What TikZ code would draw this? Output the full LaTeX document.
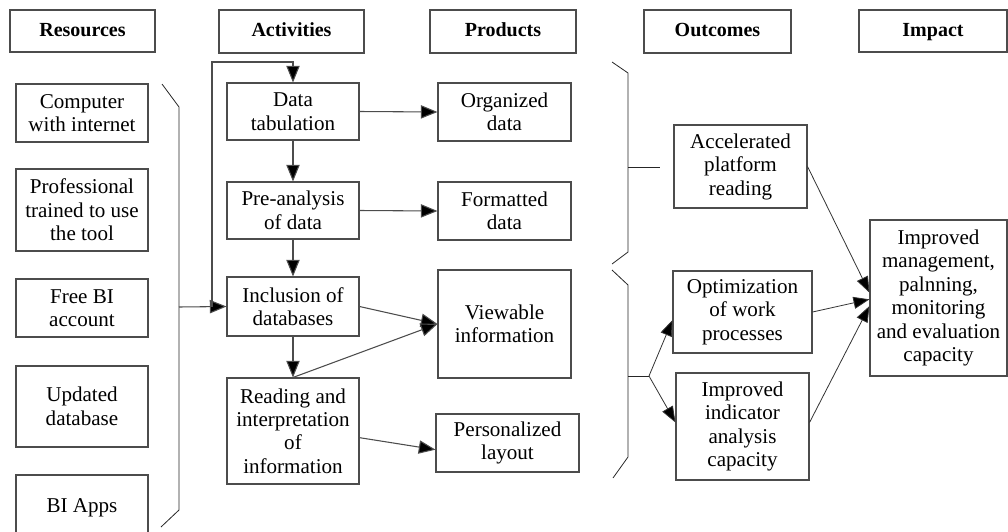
\documentclass[tikz,border=0pt]{standalone}
\usepackage{fontspec}
\setmainfont{Liberation Serif}
\usetikzlibrary{arrows.meta,calc}
\newcommand\bx[7][]{\node[box,#1,minimum width={(#5-#3)*0.75pt},minimum height={(#6-#4)*0.75pt}] (#2) at ({(#3+#5)/2},{(#4+#6)/2}) {#7};}
\begin{document}
\begin{tikzpicture}[x=0.75pt,y=-0.75pt,
  box/.style={draw=black!70,line width=0.8pt,inner sep=0pt,align=center,font=\fontsize{15.8}{17.6}\selectfont},
  head/.style={font=\fontsize{15}{16}\selectfont\bfseries,text height=10.5pt,text depth=3pt},
  arr/.style={draw=black!70,line width=0.8pt,-{Triangle[length=12.5pt,width=10pt,fill=black]}},
  tip/.style={-{Triangle[length=12pt,width=9pt,fill=black]}},
  ln/.style={draw=black!80,line width=0.6pt},
  brace/.style={draw=black!85,line width=0.6pt}]
\useasboundingbox (0,0) rectangle (1008,532);
% headers
\bx[head]{hres}{10}{10}{155}{52}{Resources}
\bx[head]{hact}{219}{10}{364}{53}{Activities}
\bx[head]{hprod}{430}{10}{576}{53}{Products}
\bx[head]{hout}{644}{10}{791}{53}{Outcomes}
\bx[head]{himp}{859}{10}{1007}{52}{Impact}
% resources
\bx{r1}{16}{84}{148}{142}{Computer\\with internet}
\bx{r2}{16}{169}{148}{251}{Professional\\trained to use\\the tool}
\bx{r3}{16}{279}{148}{337}{Free BI\\account}
\bx{r4}{16}{366}{148}{447}{Updated\\database}
\bx{r5}{16}{475}{148}{540}{BI Apps}
% activities
\bx{dt}{227}{83}{359}{140}{Data\\tabulation}
\bx{pa}{227}{182}{359}{239}{Pre-analysis\\of data}
\bx{inc}{227}{277}{359}{336}{Inclusion of\\databases}
\bx{rd}{227}{378}{359}{484}{Reading and\\interpretation\\of\\information}
% products
\bx{org}{438}{83}{571}{141}{Organized\\data}
\bx{fmt}{438}{182}{571}{240}{Formatted\\data}
\bx{vw}{438}{270}{571}{378}{Viewable\\information}
\bx{per}{436}{414}{579}{472}{Personalized\\layout}
% outcomes
\bx{acc}{674}{125}{807}{208}{Accelerated\\platform\\reading}
\bx{opt}{673}{271}{812}{353}{Optimization\\of work\\processes}
\bx{ind}{676}{373}{809}{480}{Improved\\indicator\\analysis\\capacity}
% impact
\bx{imp}{870}{220}{1007}{376}{Improved\\management,\\palnning,\\monitoring\\and evaluation\\capacity}
% braces
\draw[brace] (162,84) -- (179,107) -- (179,510) -- (161,527);
\draw[brace] (612,62) -- (628,73) -- (628,252) -- (612,264);
\draw[brace] (612,270) -- (628,285) -- (628,457) -- (613,478);
\coordinate (rb) at (179,307);
\coordinate (j) at (212,307);
\coordinate (lt) at (212,62);
\coordinate (pb1) at (628,167);
\coordinate (pb1e) at (660,167);
\coordinate (pb2) at (628,376);
\coordinate (fork) at (649,376);
% connectors
\draw[arr] (rb) -- (inc.west);
\draw[arr] (j) -- (lt) -| (dt.north);
\draw[arr] (dt.south) -- (pa.north);
\draw[arr] (pa.south) -- (inc.north);
\draw[arr] (inc.south) -- (rd.north);
\draw[arr] (dt.east) -- (org.west);
\draw[arr] (pa.east) -- (fmt.west);
\draw[arr] (inc.east) -- (vw.west);
\draw[arr] (rd.north) -- (vw.west);
\draw[arr] ([yshift=-5pt]rd.east) -- ([yshift=-5pt]per.west);
\draw[brace] (pb1) -- (pb1e);
\draw[brace] (pb2) -- (fork);
\draw[ln,tip] (fork) -- ([yshift=-6pt]opt.west);
\draw[ln,tip] (fork) -- ([yshift=3pt]ind.west);
\draw[ln,tip] (acc.east) -- ([yshift=4pt]imp.west);
\draw[ln,tip] (opt.east) -- ([yshift=-1pt]imp.west);
\draw[ln,tip] ([yshift=3pt]ind.east) -- ([yshift=-6pt]imp.west);
\end{tikzpicture}
\end{document}
